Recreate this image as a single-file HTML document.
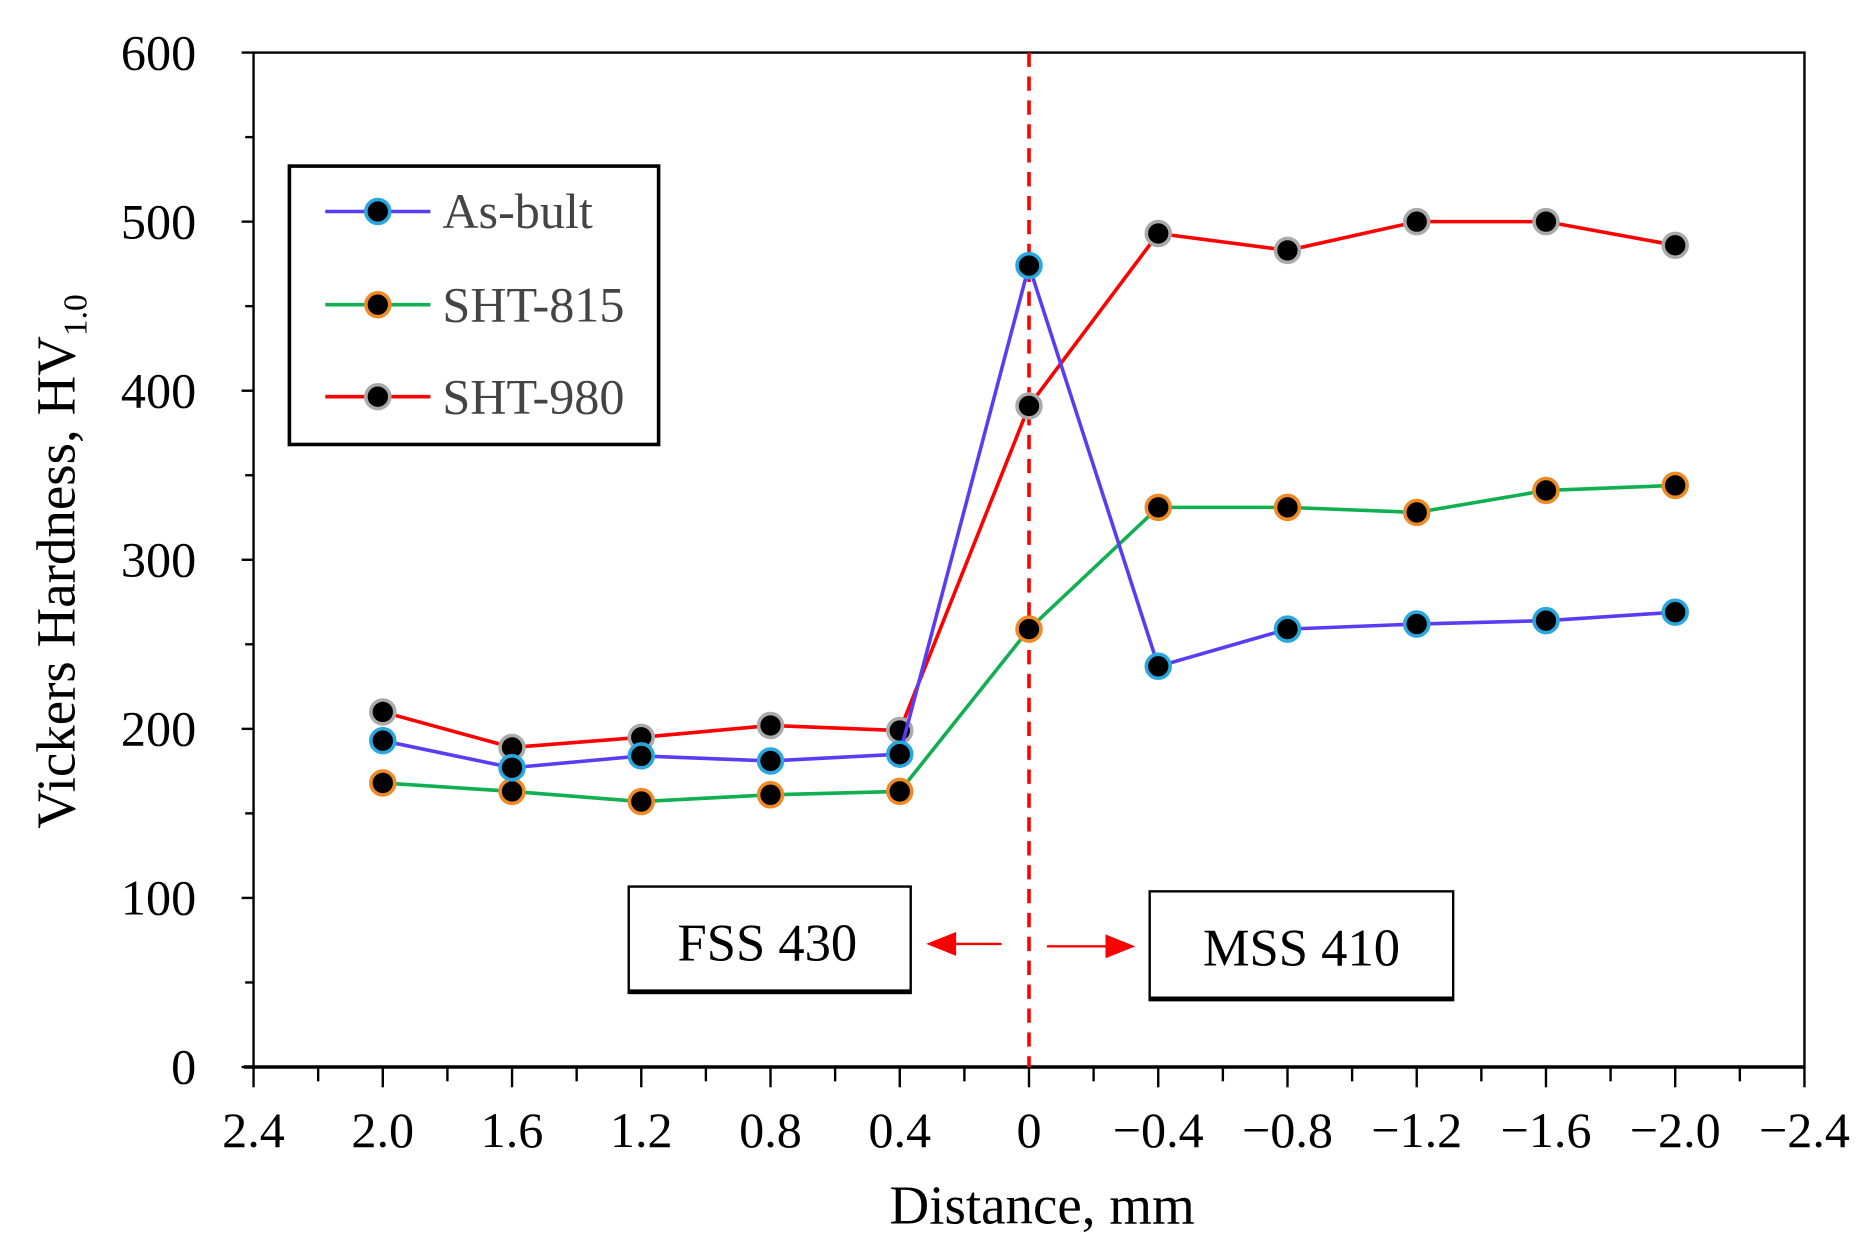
<!DOCTYPE html>
<html><head><meta charset="utf-8"><style>
html,body{margin:0;padding:0;background:#fff;}
svg{display:block;font-family:"Liberation Serif",serif;}
</style></head><body>
<svg id="chart" width="1874" height="1251" viewBox="0 0 1568 1047" xmlns="http://www.w3.org/2000/svg">
<rect x="0" y="0" width="1568" height="1047" fill="#fff"/>
<g id="axes"></g>
<g id="series"></g>
<g>
  <rect x="242" y="139" width="309" height="233" fill="#fff" stroke="#000" stroke-width="3"/>
  <g>
    <line x1="272" y1="177" x2="360" y2="177" stroke="#5b3cf5" stroke-width="3"/>
    <circle cx="316" cy="177" r="10" fill="#000" stroke="#29a8e0" stroke-width="3"/>
    <text x="370" y="191" font-size="42" fill="#444">As-bult</text>
  </g>
  <g>
    <line x1="272" y1="255" x2="360" y2="255" stroke="#10b050" stroke-width="3"/>
    <circle cx="316" cy="255" r="10" fill="#000" stroke="#f08a24" stroke-width="3"/>
    <text x="370" y="269" font-size="42" fill="#444">SHT-815</text>
  </g>
  <g>
    <line x1="272" y1="332" x2="360" y2="332" stroke="#ff0000" stroke-width="3"/>
    <circle cx="316" cy="332" r="10" fill="#000" stroke="#aaa" stroke-width="3"/>
    <text x="370" y="346" font-size="42" fill="#444">SHT-980</text>
  </g>
</g>
<g>
  <rect x="526" y="742" width="236" height="89" fill="#fff" stroke="#000" stroke-width="2"/>
  <line x1="526" y1="830" x2="762" y2="830" stroke="#000" stroke-width="4"/>
  <text x="642" y="804" font-size="44" text-anchor="middle">FSS 430</text>
</g>
<g>
  <rect x="962" y="746" width="254" height="91" fill="#fff" stroke="#000" stroke-width="2"/>
  <line x1="962" y1="836" x2="1216" y2="836" stroke="#000" stroke-width="4"/>
  <text x="1089" y="808" font-size="44" text-anchor="middle">MSS 410</text>
</g>
<g>
  <line x1="838" y1="790" x2="795" y2="790" stroke="#ff0000" stroke-width="2"/>
  <polygon points="775,790 800,780 800,800" fill="#ff0000"/>
</g>
<g>
  <line x1="876" y1="792" x2="930" y2="792" stroke="#ff0000" stroke-width="2"/>
  <polygon points="950,792 925,782 925,802" fill="#ff0000"/>
</g>
<text x="872" y="1024" font-size="46" text-anchor="middle">Distance, mm</text>
<text transform="translate(62,470) rotate(-90)" font-size="46" text-anchor="middle">Vickers Hardness, HV<tspan font-size="28" dy="10">1.0</tspan></text>
</svg>
<script>
const xCategories = [2.0, 1.6, 1.2, 0.8, 0.4, 0, -0.4, -0.8, -1.2, -1.6, -2.0];
const asBuilt = [193, 177, 184, 181, 185, 474, 237, 259, 262, 264, 269];
const sht815 = [168, 163, 157, 161, 163, 259, 331, 331, 328, 341, 344];
const sht980 = [210, 189, 195, 202, 199, 391, 493, 483, 500, 500, 486];
const xTicks = [2.4, 2.0, 1.6, 1.2, 0.8, 0.4, 0, -0.4, -0.8, -1.2, -1.6, -2.0, -2.4];
const xTickLabels = ["2.4","2.0","1.6","1.2","0.8","0.4","0","\u22120.4","\u22120.8","\u22121.2","\u22121.6","\u22122.0","\u22122.4"];
const yTicks = [0, 100, 200, 300, 400, 500, 600];

const NS = "http://www.w3.org/2000/svg";
const L = 212, R = 1510, T = 44, B = 893;
function xs(v){ return L + (2.4 - v) / 4.8 * (R - L); }
function ys(v){ return B - v / 600 * (B - T); }
function mk(tag, attrs, parent){ const e = document.createElementNS(NS, tag); for (const k in attrs) e.setAttribute(k, attrs[k]); parent.appendChild(e); return e; }

const axes = document.getElementById('axes');
const frame = mk('rect', {x:L, y:T, width:R-L, height:B-T, fill:'none', stroke:'#000', 'stroke-width':2}, axes);


const xAxis = mk('line', {x1:L-8, y1:B, x2:R, y2:B, stroke:'#000', 'stroke-width':3}, axes);


yTicks.forEach((v) => {
  const t = mk('line', {x1:L-10, y1:ys(v), x2:L, y2:ys(v), stroke:'#000', 'stroke-width':2}, axes);
  
  
  if (v < 600) { mk('line', {x1:L-7, y1:ys(v+50), x2:L, y2:ys(v+50), stroke:'#000', 'stroke-width':2}, axes); }
  const lb = mk('text', {x:164, y:ys(v)+14, 'font-size':42, 'text-anchor':'end'}, axes);
  lb.textContent = String(v);
  
  
});
xTicks.forEach((v, i) => {
  const t = mk('line', {x1:xs(v), y1:B, x2:xs(v), y2:B+17, stroke:'#000', 'stroke-width':2}, axes);
  
  
  if (i < xTicks.length - 1) { mk('line', {x1:xs(v-0.2), y1:B, x2:xs(v-0.2), y2:B+12, stroke:'#000', 'stroke-width':2}, axes); }
  const lb = mk('text', {x:xs(v), y:960, 'font-size':42, 'text-anchor':'middle'}, axes);
  lb.textContent = xTickLabels[i];
  
  
});
const zl = mk('line', {x1:xs(0), y1:T, x2:xs(0), y2:B, stroke:'#ff0000', 'stroke-width':3, 'stroke-dasharray':'12,8'}, axes);



const sg = document.getElementById('series');
function drawSeries(vals, lineColor, markColor, name){
  const g = mk('g', {}, sg);
  
  
  const pts = vals.map((v, i) => xs(xCategories[i]) + ',' + ys(v)).join(' ');
  mk('polyline', {points:pts, fill:'none', stroke:lineColor, 'stroke-width':3}, g);
  vals.forEach((v, i) => {
    const c = mk('circle', {cx:xs(xCategories[i]), cy:ys(v), r:10, fill:'#000', stroke:markColor, 'stroke-width':3}, g);
    
    
  });
}
drawSeries(sht815, '#10b050', '#f08a24', 'sht-815-series');
drawSeries(sht980, '#ff0000', '#aaaaaa', 'sht-980-series');
drawSeries(asBuilt, '#5b3cf5', '#29a8e0', 'as-built-series');
</script>
</body></html>
